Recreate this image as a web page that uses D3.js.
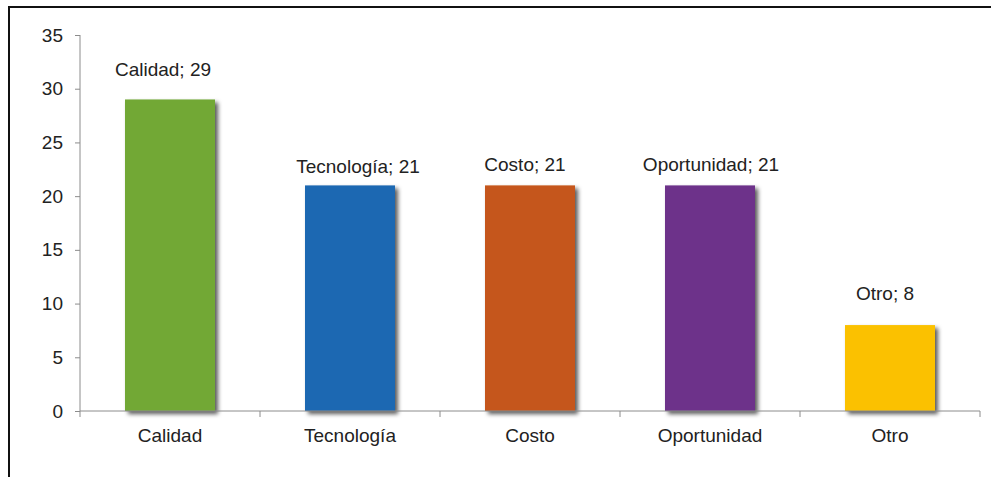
<!DOCTYPE html>
<html>
<head>
<meta charset="utf-8">
<script src="https://cdn.jsdelivr.net/npm/d3@7"></script>
<style>
  html, body { margin: 0; padding: 0; background: #fff; }
  svg { display: block; }
  text { font-family: "Liberation Sans", Arial, sans-serif; fill: #222; }
</style>
</head>
<body>
<svg id="chart" width="991" height="477"></svg>
<script>
const categories = ["Calidad", "Tecnología", "Costo", "Oportunidad", "Otro"];
const values = [29, 21, 21, 21, 8];
const colors = ["#72a834", "#1f68b2", "#c5561a", "#6d318a", "#fbc100"];
const yTicks = [0, 5, 10, 15, 20, 25, 30, 35];
// manual label placement (offset from bar centre / bar top), layout only
const labelDx = [-7, 8, -5, 1, -5];
const labelDy = [-23, -12, -14, -14, -25];

const svg = d3.select("#chart");
const W = 991, H = 477;

// outer frame (left and top only visible)
svg.append("line").attr("x1", 9).attr("x2", 9).attr("y1", 6).attr("y2", H)
  .attr("stroke", "#111").attr("stroke-width", 2);
svg.append("line").attr("x1", 8).attr("x2", W).attr("y1", 7).attr("y2", 7)
  .attr("stroke", "#111").attr("stroke-width", 2);

const defs = svg.append("defs");
const f = defs.append("filter").attr("id", "shadow")
  .attr("x", "-20%").attr("y", "-20%").attr("width", "140%").attr("height", "140%");
f.append("feDropShadow").attr("dx", 3).attr("dy", 3).attr("stdDeviation", 2)
  .attr("flood-color", "#000").attr("flood-opacity", 0.65);

const x = d3.scaleBand().domain(categories).range([80, 980]).paddingInner(0).paddingOuter(0);
const y = d3.scaleLinear().domain([0, 35]).range([411, 35]);
const barW = x.bandwidth() * 0.5;

const g = svg.append("g");

// bars
g.selectAll("rect.bar").data(categories).join("rect")
  .attr("class", "bar")
  .attr("x", d => x(d) + (x.bandwidth() - barW) / 2)
  .attr("width", barW)
  .attr("y", (d, i) => y(values[i]))
  .attr("height", (d, i) => y(0) - y(values[i]))
  .attr("fill", (d, i) => colors[i])
  .attr("filter", "url(#shadow)");

// y axis
const yAxis = d3.axisLeft(y).tickValues(yTicks).tickSize(5).tickPadding(12);
const ya = g.append("g").attr("transform", "translate(80,0)").call(yAxis);
ya.select(".domain").attr("stroke", "#8c8c8c").attr("d", "M0,35V411");
ya.selectAll(".tick line").attr("stroke", "#8c8c8c");
ya.selectAll(".tick text").style("font-size", "19px").attr("fill", "#222")
  .attr("font-family", "Liberation Sans, Arial, sans-serif");

// x axis
const xa = g.append("g").attr("transform", "translate(0,411)");
xa.append("line").attr("x1", 80).attr("x2", 980).attr("y1", 0).attr("y2", 0)
  .attr("stroke", "#8c8c8c");
const bounds = categories.map(c => x(c)).concat([x.range()[1]]);
xa.selectAll("line.tk").data(bounds).join("line").attr("class", "tk")
  .attr("x1", d => d).attr("x2", d => d).attr("y1", 0).attr("y2", 6)
  .attr("stroke", "#8c8c8c");
xa.selectAll("text").data(categories).join("text")
  .attr("x", d => x(d) + x.bandwidth() / 2)
  .attr("y", 31)
  .attr("text-anchor", "middle")
  .style("font-size", "19px")
  .text(d => d);

// data labels
g.selectAll("text.lbl").data(categories).join("text")
  .attr("class", "lbl")
  .attr("x", (d, i) => x(d) + x.bandwidth() / 2 + labelDx[i])
  .attr("y", (d, i) => y(values[i]) + labelDy[i])
  .attr("text-anchor", "middle")
  .style("font-size", "19px")
  .text((d, i) => d + "; " + values[i]);
</script>
</body>
</html>
